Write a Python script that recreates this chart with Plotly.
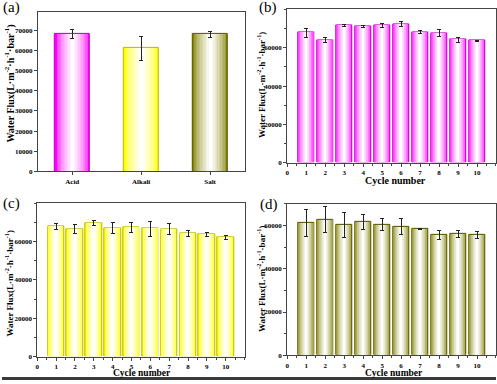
import plotly.graph_objects as go

# ---------------- data ----------------
categories_a = ["Acid", "Alkali", "Salt"]
flux_a = [68000, 61000, 67900]
err_a = [2200, 6000, 1500]

cycles = [1, 2, 3, 4, 5, 6, 7, 8, 9, 10]
cycle_ticks = [0, 1, 2, 3, 4, 5, 6, 7, 8, 9, 10]
flux_ticks = [0, 20000, 40000, 60000]
flux_b = [67900, 64000, 71400, 71200, 71550, 72400, 68100, 67600, 64100, 63600]
err_b = [2300, 1400, 500, 600, 1000, 1200, 800, 1900, 1500, 300]
flux_c = [68000, 66600, 69700, 67100, 67500, 66800, 66600, 64200, 63700, 62100]
err_c = [1700, 2100, 1300, 3100, 2500, 3900, 2700, 1500, 1200, 1200]
flux_d = [61100, 62600, 60300, 61700, 60300, 59500, 58300, 55700, 56000, 55600]
err_d = [6100, 6000, 5900, 3600, 2700, 3800, 300, 2100, 1750, 1400]

MAGENTA = (255, 0, 255)
YELLOW = (255, 255, 0)
OLIVE = (128, 128, 0)
BORDER = {MAGENTA: "#c000c0", YELLOW: "#b8b800", OLIVE: "#5a5a00"}

FONT = "Liberation Serif"
W, H = 497, 384


def mix(c, t):
    r, g, b = [int(round(v + (255 - v) * t)) for v in c]
    return f"rgb({r},{g},{b})"


fig = go.Figure()

N_LAYERS = 12


def add_gradient_bars(xs, ys, errs, colors, width, xaxis, yaxis, cap):
    """Overlay progressively narrower, lighter bars to mimic a horizontal gradient."""
    for k in range(N_LAYERS):
        frac = k / (N_LAYERS - 1)
        t = frac ** 0.6
        w = width * (1 - k / N_LAYERS)
        last = k == N_LAYERS - 1
        fig.add_trace(go.Bar(
            x=xs, y=ys, width=w,
            marker=dict(color=[mix(c, t) for c in colors],
                        line=dict(width=1 if k == 0 else 0,
                                  color=[BORDER[c] for c in colors])),
            error_y=dict(type="data", array=errs, visible=last,
                         color="#222222", thickness=1, width=cap),
            xaxis=xaxis, yaxis=yaxis, showlegend=False, hoverinfo="skip",
        ))


add_gradient_bars(categories_a, flux_a, err_a, [MAGENTA, YELLOW, OLIVE], 0.5, "x", "y", 2)
add_gradient_bars(cycles, flux_b, err_b, [MAGENTA] * 10, 0.87, "x2", "y2", 2)
add_gradient_bars(cycles, flux_c, err_c, [YELLOW] * 10, 0.87, "x3", "y3", 2)
add_gradient_bars(cycles, flux_d, err_d, [OLIVE] * 10, 0.87, "x4", "y4", 2)

tickfont = dict(family=FONT, size=7, color="black", weight="bold")
ytitle = "<b>Water Flux(L·m<sup>-2</sup>·h<sup>-1</sup>·bar<sup>-1</sup>)</b>"
LINE = "#444444"


def xdom(a, b):
    return [a / W, min(b / W, 1.0)]


def ydom(top, bottom):
    return [1 - bottom / H, 1 - top / H]


common_ax = dict(showline=True, linecolor=LINE, linewidth=1, mirror=True,
                 ticks="outside", ticklen=3, tickwidth=1, tickcolor=LINE,
                 showgrid=False, zeroline=False, tickfont=tickfont)
minor_x = dict(dtick=0.5, ticklen=2, tickcolor=LINE, ticks="outside")
minor_y = dict(tickmode="linear", tick0=0, dtick=10000, ticklen=2, tickcolor=LINE, ticks="outside")

fig.update_layout(
    width=W, height=H, margin=dict(l=0, r=0, t=0, b=0),
    paper_bgcolor="white", plot_bgcolor="white",
    barmode="overlay", bargap=0,
    # (a)
    xaxis=dict(domain=xdom(36, 244), anchor="y", type="category",
               range=[-0.5, 2.5], **common_ax),
    yaxis=dict(domain=ydom(12, 173.3), anchor="x", range=[0, 79000],
               tickmode="linear", tick0=0, dtick=10000, tickformat="d", **common_ax),
    # (b)
    xaxis2=dict(domain=xdom(287, 497), anchor="y2", range=[0, 11],
                tickmode="array", tickvals=cycle_ticks, minor=minor_x, **common_ax),
    yaxis2=dict(domain=ydom(9.5, 164.5), anchor="x2", range=[0, 80000],
                tickmode="array", tickvals=flux_ticks, tickformat="d",
                minor=minor_y, **common_ax),
    # (c)
    xaxis3=dict(domain=xdom(35.5, 244), anchor="y3", range=[0, 11],
                tickmode="array", tickvals=cycle_ticks, minor=minor_x, **common_ax),
    yaxis3=dict(domain=ydom(205.5, 360.3), anchor="x3", range=[0, 80000],
                tickmode="array", tickvals=flux_ticks, tickformat="d",
                minor=minor_y, **common_ax),
    # (d)
    xaxis4=dict(domain=xdom(287, 497), anchor="y4", range=[0, 11],
                tickmode="array", tickvals=cycle_ticks, minor=minor_x, **common_ax),
    yaxis4=dict(domain=ydom(206, 359), anchor="x4", range=[0, 70000],
                tickmode="array", tickvals=flux_ticks, tickformat="d",
                minor=minor_y, **common_ax),
)


def ann(text, px, py, size, angle=0):
    fig.add_annotation(text=text, xref="paper", yref="paper",
                       x=px / W, y=1 - py / H, xanchor="center", yanchor="middle",
                       textangle=angle, showarrow=False,
                       font=dict(family=FONT, size=size, color="black"))


# y-axis titles
ann(ytitle, 7.5, 84, 10, angle=-90)
ann(ytitle, 260.5, 86, 9, angle=-90)
ann(ytitle, 7.5, 286, 9, angle=-90)
ann(ytitle, 260.5, 282, 9, angle=-90)

# x-axis titles
ann("<b>Cycle number</b>", 396, 182.5, 10)
ann("<b>Cycle number</b>", 141, 377, 9.5)
ann("<b>Cycle number</b>", 394, 377, 9.5)

# panel labels
for label, px, py in [("(a)", 10, 8), ("(b)", 268, 8), ("(c)", 10, 206), ("(d)", 268.5, 207)]:
    ann(label, px, py, 15)

# dark strip along the bottom edge of the source image
fig.add_shape(type="rect", xref="paper", yref="paper", x0=0, x1=1, y0=0, y1=3 / H,
              fillcolor="#3a3a3a", line=dict(width=0), layer="above")

fig.write_html("out.html", config={"displayModeBar": False},
               post_script="document.body.style.margin='0';document.body.style.overflow='hidden';")
